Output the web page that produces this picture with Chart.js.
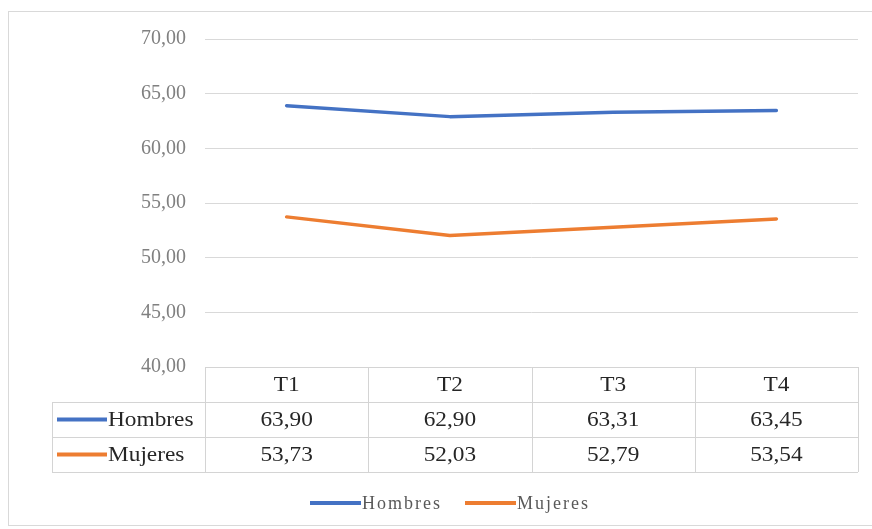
<!DOCTYPE html>
<html>
<head>
<meta charset="utf-8">
<script src="https://cdn.jsdelivr.net/npm/chart.js@4/dist/chart.umd.min.js"></script>
<style>
  html, body { margin: 0; padding: 0; background: #ffffff; }
  #wrap { width: 872px; height: 529px; }
</style>
</head>
<body>
<div id="wrap"><canvas id="chart" width="872" height="529"></canvas></div>
<script>
// Trimestres y series
const categories = ['T1', 'T2', 'T3', 'T4'];
const hombres = [63.90, 62.90, 63.31, 63.45];
const mujeres = [53.73, 52.03, 52.79, 53.54];
const seriesNames = ['Hombres', 'Mujeres'];
const seriesColors = ['#4472C4', '#ED7D31'];
const yTicks = [40, 45, 50, 55, 60, 65, 70];

const SERIF = '"Liberation Serif", "Times New Roman", serif';
const fmt = v => v.toFixed(2).replace('.', ',');

// Text drawn with a slight horizontal stretch, like the spreadsheet output
function stretchText(ctx, text, x, y, align, sx) {
  ctx.save();
  ctx.translate(x, y);
  ctx.scale(sx, 1);
  ctx.textAlign = align;
  ctx.fillText(text, 0, 0);
  ctx.restore();
}

// Outer frame of the chart object
const framePlugin = {
  id: 'frame',
  beforeDraw(chart) {
    const ctx = chart.ctx;
    ctx.save();
    ctx.fillStyle = '#ffffff';
    ctx.fillRect(0, 0, chart.width, chart.height);
    ctx.strokeStyle = '#d9d9d9';
    ctx.lineWidth = 1;
    ctx.strokeRect(8.5, 11.5, 870, 514);
    ctx.restore();
  }
};

// Data table under the plot, aligned with the category scale
const tablePlugin = {
  id: 'dataTable',
  afterDraw(chart) {
    const ctx = chart.ctx;
    const xs = chart.scales.x;
    const area = chart.chartArea;
    const n = categories.length;
    const band = (area.right - area.left) / n;
    const top = area.bottom;
    const rowH = 35;
    const tableLeft = 52;
    const rows = [hombres, mujeres];

    ctx.save();
    ctx.strokeStyle = '#d4d4d4';
    ctx.lineWidth = 1;
    ctx.beginPath();
    // horizontal rules
    ctx.moveTo(area.left, top + 0.5);
    ctx.lineTo(area.right, top + 0.5);
    for (let r = 1; r <= rows.length + 1; r++) {
      const y = Math.round(top + r * rowH) + 0.5;
      ctx.moveTo(tableLeft, y);
      ctx.lineTo(area.right, y);
    }
    // vertical rules
    for (let i = 0; i <= n; i++) {
      const x = Math.round(area.left + i * band) + 0.5;
      ctx.moveTo(x, top);
      ctx.lineTo(x, top + (rows.length + 1) * rowH);
    }
    ctx.moveTo(tableLeft + 0.5, top + rowH);
    ctx.lineTo(tableLeft + 0.5, top + (rows.length + 1) * rowH);
    ctx.stroke();

    ctx.fillStyle = '#262626';
    ctx.font = '22px ' + SERIF;
    ctx.textBaseline = 'middle';
    categories.forEach((c, i) => {
      stretchText(ctx, c, xs.getPixelForValue(i), top + rowH / 2 + 1, 'center', 1.06);
    });
    rows.forEach((vals, r) => {
      const cy = top + rowH * (r + 1.5) + 1;
      vals.forEach((v, i) => {
        stretchText(ctx, fmt(v), xs.getPixelForValue(i), cy, 'center', 1.06);
      });
      // series key
      ctx.strokeStyle = seriesColors[r];
      ctx.lineWidth = 4;
      ctx.beginPath();
      ctx.moveTo(57, cy - 1);
      ctx.lineTo(107, cy - 1);
      ctx.stroke();
      stretchText(ctx, seriesNames[r], 108, cy, 'left', 1.06);
    });
    ctx.restore();
  }
};

// Bottom legend
const legendPlugin = {
  id: 'bottomLegend',
  afterDraw(chart) {
    const ctx = chart.ctx;
    const y = 503;
    const items = [{ x: 310 }, { x: 465 }];
    ctx.save();
    ctx.font = '18px ' + SERIF;
    ctx.textBaseline = 'middle';
    ctx.fillStyle = '#595959';
    try { ctx.letterSpacing = '2px'; } catch (e) {}
    items.forEach((it, i) => {
      ctx.strokeStyle = seriesColors[i];
      ctx.lineWidth = 4;
      ctx.beginPath();
      ctx.moveTo(it.x, y);
      ctx.lineTo(it.x + 51, y);
      ctx.stroke();
      ctx.textAlign = 'left';
      ctx.fillText(seriesNames[i], it.x + 52, y + 1);
    });
    ctx.restore();
  }
};

new Chart(document.getElementById('chart'), {
  type: 'line',
  data: {
    labels: categories,
    datasets: [
      { label: seriesNames[0], data: hombres, borderColor: seriesColors[0], backgroundColor: seriesColors[0] },
      { label: seriesNames[1], data: mujeres, borderColor: seriesColors[1], backgroundColor: seriesColors[1] }
    ]
  },
  options: {
    responsive: false,
    animation: false,
    devicePixelRatio: 1,
    layout: { padding: { left: 0, right: 14, top: 39, bottom: 162 } },
    elements: {
      line: { borderWidth: 3.5, tension: 0, borderCapStyle: 'round', borderJoinStyle: 'round' },
      point: { radius: 0, hoverRadius: 0 }
    },
    plugins: {
      legend: { display: false },
      tooltip: { enabled: false }
    },
    scales: {
      x: {
        type: 'category',
        offset: true,
        display: false
      },
      y: {
        min: 40,
        max: 70,
        afterFit(scale) { scale.width = 205; },
        afterBuildTicks(scale) { scale.ticks = yTicks.map(v => ({ value: v })); },
        border: { display: false },
        grid: { color: '#d9d9d9', drawTicks: false, lineWidth: 1 },
        ticks: {
          padding: 19,
          color: '#808080',
          font: { family: SERIF, size: 20 },
          callback: v => fmt(v)
        }
      }
    }
  },
  plugins: [framePlugin, tablePlugin, legendPlugin]
});
</script>
</body>
</html>
